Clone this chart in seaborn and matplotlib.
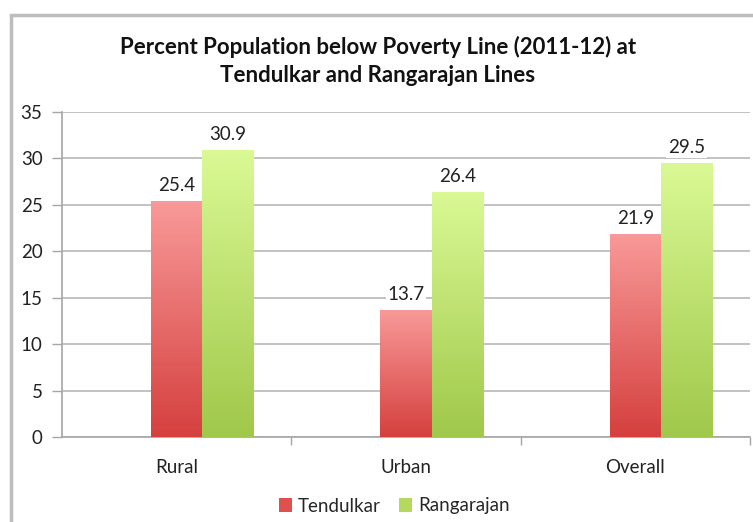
import numpy as np
import pandas as pd
import matplotlib
matplotlib.use("Agg")
import matplotlib.pyplot as plt
from matplotlib.patches import Rectangle, Patch
from matplotlib.colors import LinearSegmentedColormap
import seaborn as sns

# Poverty headcount ratio (%) for 2011-12
categories = ["Rural", "Urban", "Overall"]
tendulkar = [25.4, 13.7, 21.9]
rangarajan = [30.9, 26.4, 29.5]
series_names = ["Tendulkar", "Rangarajan"]
y_ticks = [0, 5, 10, 15, 20, 25, 30, 35]
title = "Percent Population below Poverty Line (2011-12) at\nTendulkar and Rangarajan Lines"

# Gradient ends per series (top colour, bottom colour)
grad = {
    "Tendulkar": ("#F89A99", "#D5403E"),
    "Rangarajan": ("#DAF995", "#A0C84A"),
}
solid = {"Tendulkar": "#E0504E", "Rangarajan": "#B4D95E"}

# An empty leading series keeps the Excel-style slot in each group
blank = " "
rows = []
for i, c in enumerate(categories):
    rows.append({"cat": c, "series": blank, "value": np.nan})
    rows.append({"cat": c, "series": "Tendulkar", "value": tendulkar[i]})
    rows.append({"cat": c, "series": "Rangarajan", "value": rangarajan[i]})
df = pd.DataFrame(rows)

sns.set_style("white")
plt.rcParams["font.family"] = ["Lato", "DejaVu Sans"]

fig = plt.figure(figsize=(7.53, 5.22), dpi=100)
ax = fig.add_axes([62 / 753, 1 - 437 / 522, (750 - 62) / 753, (437 - 112) / 522])

palette = {blank: "#FFFFFF", "Tendulkar": solid["Tendulkar"], "Rangarajan": solid["Rangarajan"]}
sns.barplot(data=df, x="cat", y="value", hue="series",
            hue_order=[blank] + series_names, order=categories,
            palette=palette, width=0.67, ax=ax, legend=False,
            linewidth=0, saturation=1, errorbar=None, zorder=3)

fs = 13.5
ax.set_ylim(0, 35)
ax.set_xlim(-0.5, len(categories) - 0.5)
ax.set_yticks(y_ticks)
ax.set_yticklabels([str(t) for t in y_ticks], fontsize=fs, color="#222222")
ax.tick_params(axis="y", length=7, width=1, color="#A6A6A6", pad=7, left=True)
ax.set_xticks(range(len(categories)))
ax.set_xticklabels(categories, fontsize=fs, color="#222222")
ax.tick_params(axis="x", length=0, pad=16)
# boundary ticks between categories along the bottom axis
ax.set_xticks([0.5, 1.5, 2.5], minor=True)
ax.tick_params(axis="x", which="minor", length=6, width=1, color="#A6A6A6", bottom=True, direction="out")
ax.set_xlabel("")
ax.set_ylabel("")
ax.yaxis.grid(True, color="#B8B8B8", linewidth=1.2, zorder=0)
ax.set_axisbelow(True)
for s in ["top", "right"]:
    ax.spines[s].set_visible(False)
for s in ["left", "bottom"]:
    ax.spines[s].set_color("#A6A6A6")
    ax.spines[s].set_linewidth(1.2)

# Vertical gradient fill, clipped to each bar
for container, name in zip(ax.containers, [blank] + series_names):
    if name == blank:
        continue
    cmap = LinearSegmentedColormap.from_list(name, [grad[name][1], grad[name][0]])
    for bar in container:
        h = bar.get_height()
        if not np.isfinite(h) or h == 0:
            continue
        x0 = bar.get_x()
        w = bar.get_width()
        g = np.linspace(0, 1, 256).reshape(-1, 1)
        im = ax.imshow(g, cmap=cmap, origin="lower", aspect="auto",
                       extent=[x0, x0 + w, 0, h], zorder=3.5)
        im.set_clip_path(bar)
        bar.set_facecolor("none")
        ax.annotate(f"{h:.1f}", (x0 + w / 2, h), xytext=(0, 5),
                    textcoords="offset points", ha="center", va="bottom",
                    fontsize=fs, color="#222222", zorder=5,
                    bbox=dict(boxstyle="square,pad=0.1", fc="white", ec="none"))
ax.set_xlim(-0.5, len(categories) - 0.5)
ax.set_ylim(0, 35)

fig.text(378 / 753, 1 - 61 / 522, title, ha="center", va="center",
         fontsize=16, fontweight="bold", color="#111111", linespacing=1.45)

# Legend below the plot
handles = [Patch(facecolor=solid[n], edgecolor="none") for n in series_names]
fig.legend(handles, series_names, loc="center", bbox_to_anchor=(394 / 753, 1 - 506 / 522),
           ncol=2, frameon=False, fontsize=fs, handlelength=0.7, handleheight=0.7,
           handletextpad=0.3, columnspacing=1.0)

# Chart area border
fig.patches.append(Rectangle((11 / 753, -0.05), 1.2, 1 - 15 / 522 + 0.05,
                             transform=fig.transFigure, fill=False,
                             edgecolor="#BDBDBD", linewidth=2.5, zorder=0))

fig.savefig("out.png", dpi=100, facecolor="white")
